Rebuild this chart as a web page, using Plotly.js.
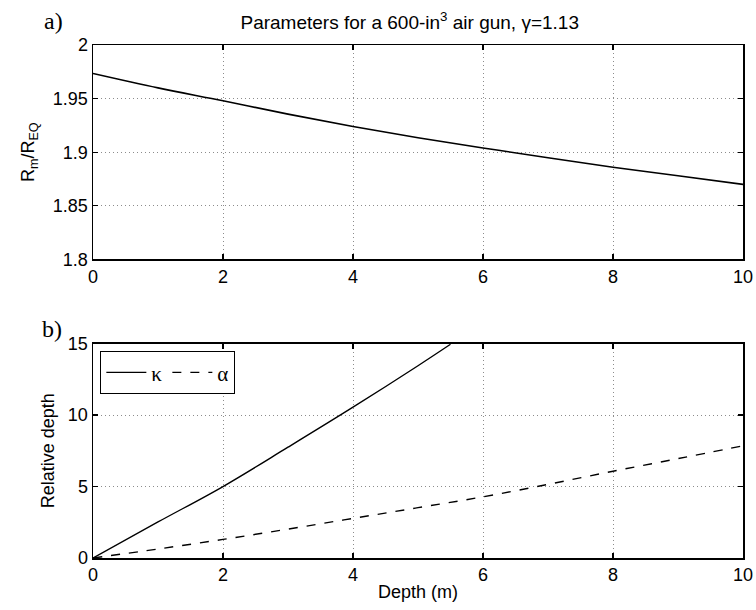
<!DOCTYPE html>
<html>
<head>
<meta charset="utf-8">
<script src="https://cdn.plot.ly/plotly-3.0.1.min.js"></script>
<style>html,body{margin:0;padding:0;background:#fff;}#chart{width:756px;height:610px;}</style>
</head>
<body>
<div id="chart"></div>
<script>
// Top panel: R_m / R_EQ vs depth
const depthTop = [0, 1, 2, 3, 4, 5, 6, 7, 8, 9, 10];
const ratio = [1.9734, 1.960, 1.948, 1.9355, 1.924, 1.9135, 1.904, 1.8948, 1.886, 1.878, 1.870];

// Bottom panel: relative depth
const depthKappa = [0, 1, 2, 3, 4, 5, 5.5];
const kappa = [0, 2.52, 5.0, 7.75, 10.55, 13.45, 14.95];
const depthAlpha = [0, 1, 2, 3, 4, 5, 6, 7, 8, 9, 10];
const alpha = [0, 0.63, 1.3, 2.02, 2.77, 3.52, 4.28, 5.15, 6.07, 6.95, 7.85];

const fontMain = {family: 'Liberation Sans, Arial, sans-serif', size: 18, color: '#000'};

const axisCommon = {
  showline: true, linecolor: '#000', linewidth: 1.5, mirror: 'ticks',
  ticks: 'inside', ticklen: 5, tickwidth: 1.2, tickcolor: '#000',
  showgrid: true, gridcolor: '#8c8c8c', griddash: '1px,3px', gridwidth: 1,
  zeroline: false, tickfont: fontMain
};

const traces = [
  {x: depthTop, y: ratio, mode: 'lines', line: {color: '#000', width: 1.6, shape: 'spline'}, xaxis: 'x', yaxis: 'y', showlegend: false},
  {x: depthKappa, y: kappa, mode: 'lines', name: 'κ', line: {color: '#000', width: 1.4, shape: 'spline'}, xaxis: 'x2', yaxis: 'y2'},
  {x: depthAlpha, y: alpha, mode: 'lines', name: 'α', line: {color: '#000', width: 1.4, dash: 'dash', shape: 'spline'}, xaxis: 'x2', yaxis: 'y2'}
];

const layout = {
  width: 756, height: 610,
  margin: {l: 93, r: 13, t: 45, b: 52},
  paper_bgcolor: '#fff', plot_bgcolor: '#fff',
  font: fontMain,
  showlegend: true,
  legend: {
    x: 0.011, y: 0.4035, xanchor: 'left', yanchor: 'top',
    orientation: 'h', bordercolor: '#000', borderwidth: 1.2, bgcolor: '#fff',
    font: {family: 'Liberation Serif, serif', size: 21, color: '#000'},
    itemwidth: 40, tracegroupgap: 0
  },
  title: {
    text: 'Parameters for a 600-in<sup>3</sup> air gun, γ=1.13',
    x: 0.542, xref: 'container', xanchor: 'center', y: 0.964, yanchor: 'middle',
    font: {family: 'Liberation Sans, Arial, sans-serif', size: 19, color: '#000'}
  },
  xaxis: Object.assign({}, axisCommon, {domain: [0, 1], range: [0, 10], dtick: 2, anchor: 'y'}),
  yaxis: Object.assign({}, axisCommon, {domain: [0.582, 1], range: [1.8, 2], dtick: 0.05, anchor: 'x',
    title: {text: 'R<sub>m</sub>/R<sub>EQ</sub>', font: fontMain, standoff: 13}}),
  xaxis2: Object.assign({}, axisCommon, {domain: [0, 1], range: [0, 10], dtick: 2, anchor: 'y2',
    title: {text: 'Depth (m)', font: fontMain, standoff: 1}}),
  yaxis2: Object.assign({}, axisCommon, {domain: [0, 0.418], range: [0, 15], dtick: 5, anchor: 'x2',
    title: {text: 'Relative depth', font: fontMain, standoff: 8}}),
  annotations: [
    {text: 'a)', xref: 'paper', yref: 'paper', x: -0.078, y: 1.047, xanchor: 'left', yanchor: 'middle', showarrow: false,
     font: {family: 'Liberation Serif, serif', size: 24, color: '#000'}},
    {text: 'b)', xref: 'paper', yref: 'paper', x: -0.081, y: 0.446, xanchor: 'left', yanchor: 'middle', showarrow: false,
     font: {family: 'Liberation Serif, serif', size: 24, color: '#000'}}
  ]
};

Plotly.newPlot('chart', traces, layout, {displayModeBar: false, staticPlot: true});
</script>
</body>
</html>
